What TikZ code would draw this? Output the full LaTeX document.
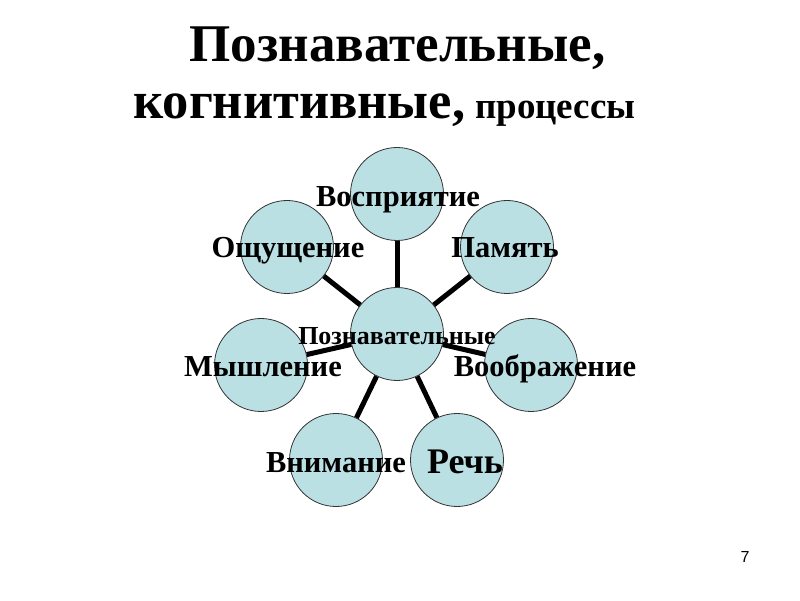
\documentclass[tikz,border=0pt]{standalone}
\usepackage{fontspec}
\setmainfont{Liberation Serif}
\newfontfamily\pagefont{Liberation Sans}
\usepackage{tikz}
\definecolor{procfill}{RGB}{187,224,228}
\newcommand{\fsz}[1]{\fontsize{#1}{#1}\selectfont}

\begin{document}
\begin{tikzpicture}[x=1pt,y=1pt,
  proc/.style={circle,draw=black!80,line width=0.8pt,fill=procfill,minimum size=93pt,inner sep=0pt},
  link/.style={line width=5pt,black},
  word/.style={font=\bfseries\fsz{30.5},inner sep=0pt,anchor=base}]
  \useasboundingbox (0,0) rectangle (800,600);
  % title
  \node[anchor=base,inner sep=0pt] (ttl1) at (397.5,538) {\bfseries\fsz{53}Познавательные,};
  \node[anchor=base west,inner sep=0pt] (ttl2) at (133,481) {\bfseries\fsz{52.5}когнитивные,};
  \node[anchor=base west,inner sep=0pt] (ttl3) at (475,481) {\bfseries\fsz{37}процессы};
  % circles
  \node[proc] (cog) at (397,266) {};
  \node[proc] (vospr) at (397,406) {};
  \node[proc] (oshch) at (287,353) {};
  \node[proc] (pamyat) at (507,353) {};
  \node[proc] (mysh) at (261,235) {};
  \node[proc] (voobr) at (531,235) {};
  \node[proc] (vnim) at (336,140) {};
  \node[proc] (rech) at (457,140) {};
  \draw[link] (cog) -- (vospr);
  \draw[link] (cog) -- (oshch);
  \draw[link] (cog) -- (pamyat);
  \draw[link] (cog) -- (mysh);
  \draw[link] (cog) -- (voobr);
  \draw[link] (cog) -- (vnim);
  \draw[link] (cog) -- (rech);
  % labels
  \node[word,font=\bfseries\fsz{26}] at ([yshift=-11]cog) {Познавательные};
  \node[word] at ([xshift=1,yshift=-13]vospr) {Восприятие};
  \node[word] at ([xshift=1,yshift=-11]oshch) {Ощущение};
  \node[word] at ([xshift=-2,yshift=-11]pamyat) {Память};
  \node[word] at ([xshift=2,yshift=-12]mysh) {Мышление};
  \node[word] at ([xshift=14,yshift=-12]voobr) {Воображение};
  \node[word] at ([yshift=-12]vnim) {Внимание};
  \node[word,font=\bfseries\fsz{36}] at ([xshift=8,yshift=-13]rech) {Речь};
  % page number
  \node[inner sep=0pt] (pgno) at (745,43) {\pagefont\fsz{16}7};
\end{tikzpicture}
\end{document}
